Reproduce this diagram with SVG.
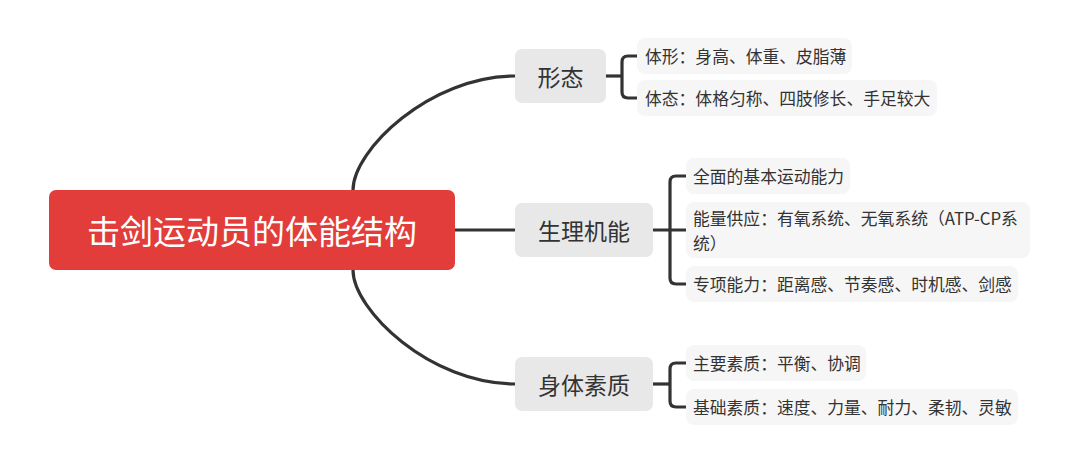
<svg xmlns="http://www.w3.org/2000/svg" width="1080" height="458" viewBox="0 0 1080 458">
<style>
.conn{fill:none;stroke:#333333;stroke-width:3.2;stroke-linecap:butt;stroke-linejoin:round}
.root rect{fill:#E23D3A}
.root text{fill:#ffffff;font-size:33px;font-family:"Noto Sans CJK SC","Noto Sans",sans-serif;text-anchor:middle;dominant-baseline:central}
.main rect{fill:#E8E8E8}
.main text{fill:#333333;font-size:23px;font-family:"Noto Sans CJK SC","Noto Sans",sans-serif;text-anchor:middle;dominant-baseline:central}
.leaf rect{fill:#F6F6F6}
.leaf text{fill:#333333;font-size:16.8px;font-family:"Noto Sans CJK SC","Noto Sans",sans-serif;dominant-baseline:central}
</style>
<rect width="1080" height="458" fill="#ffffff"/>
<g id="connectors">
<path class="conn" d="M353,190 C353,150 430,76 515,76"/>
<path class="conn" d="M353,270 C353,310 430,384 515,384"/>
<path class="conn" d="M455,230 L515,230"/>
<path class="conn" d="M606,76 L622,76"/>
<path class="conn" d="M637,56 L628,56 Q622,56 622,62 L622,92 Q622,98 628,98 L637,98"/>
<path class="conn" d="M653,230 L686,230"/>
<path class="conn" d="M686,176 L676,176 Q670,176 670,182 L670,278 Q670,284 676,284 L686,284"/>
<path class="conn" d="M653,384 L670,384"/>
<path class="conn" d="M686,363 L676,363 Q670,363 670,369 L670,401 Q670,407 676,407 L686,407"/>
</g>
<g id="root" class="root">
<rect x="49" y="190" width="406" height="80" rx="7"/>
<text x="252" y="230">击剑运动员的体能结构</text>
</g>
<g id="n-xingtai" class="main">
<rect x="515" y="49" width="91" height="54" rx="7"/>
<text x="560.5" y="76">形态</text>
</g>
<g id="n-shengli" class="main">
<rect x="515" y="203" width="138" height="54" rx="7"/>
<text x="584" y="230">生理机能</text>
</g>
<g id="n-shenti" class="main">
<rect x="515" y="357" width="138" height="54" rx="7"/>
<text x="584" y="384">身体素质</text>
</g>
<g id="l-tixing" class="leaf">
<rect x="637" y="38" width="215" height="36" rx="8"/>
<text x="645" y="56">体形：身高、体重、皮脂薄</text>
</g>
<g id="l-titai" class="leaf">
<rect x="637" y="80" width="300" height="36" rx="8"/>
<text x="645" y="98">体态：体格匀称、四肢修长、手足较大</text>
</g>
<g id="l-quanmian" class="leaf">
<rect x="686" y="158" width="164" height="36" rx="8"/>
<text x="693" y="176">全面的基本运动能力</text>
</g>
<g id="l-nengliang" class="leaf">
<rect x="686" y="202" width="344" height="56" rx="8"/>
<text x="693" y="218"><tspan x="693" y="218">能量供应：有氧系统、无氧系统（ATP-CP系</tspan><tspan x="693" y="242.5">统）</tspan></text>
</g>
<g id="l-zhuanxiang" class="leaf">
<rect x="686" y="266" width="332" height="36" rx="8"/>
<text x="693" y="284">专项能力：距离感、节奏感、时机感、剑感</text>
</g>
<g id="l-zhuyao" class="leaf">
<rect x="686" y="345" width="180" height="36" rx="8"/>
<text x="693" y="363">主要素质：平衡、协调</text>
</g>
<g id="l-jichu" class="leaf">
<rect x="686" y="389" width="332" height="36" rx="8"/>
<text x="693" y="407">基础素质：速度、力量、耐力、柔韧、灵敏</text>
</g>
</svg>
